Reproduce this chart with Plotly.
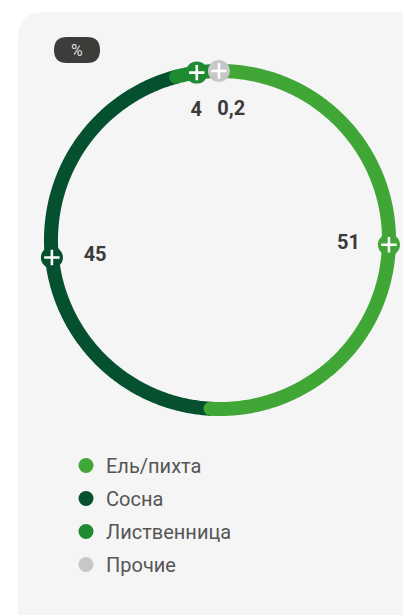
import plotly.graph_objects as go

# ---- data ----
categories = ["Ель/пихта", "Сосна", "Лиственница", "Прочие"]
values = [51, 45, 4, 0.2]
value_labels = ["51", "45", "4", "0,2"]
colors = ["#40a636", "#04502f", "#1e8b33", "#c7c7c7"]
unit_label = "%"

OFF = 8  # default body margin of the page
W, H = 411 - OFF, 615 - OFF
RING_W = 14
MARK_SIZE = 22
R_MAX = 1.12
FONT = "Roboto, Inter, sans-serif"


def px(x):
    return (x - OFF) / W


def py(y):
    return 1 - (y - OFF) / H


total = sum(values)
starts, ends = [], []
acc = 0.0
for v in values:
    starts.append(acc / total * 360)
    acc += v
    ends.append(acc / total * 360)
mids = [(s + e) / 2 for s, e in zip(starts, ends)]

fig = go.Figure()


def arc(s, e):
    n = max(2, int((e - s) / 0.5) + 2)
    return [s + (e - s) * i / (n - 1) for i in range(n)]


# draw order: Сосна, Ель/пихта (its cap overlaps), then small ones
order = [1, 0, 2, 3]
for i in order:
    th = arc(starts[i], ends[i])
    fig.add_trace(go.Scatterpolar(
        r=[1] * len(th), theta=th, mode="lines",
        line=dict(color=colors[i], width=RING_W),
        showlegend=False, hoverinfo="skip"))
    fig.add_trace(go.Scatterpolar(
        r=[1, 1], theta=[starts[i], ends[i]], mode="markers",
        marker=dict(color=colors[i], size=RING_W, line=dict(width=0)),
        showlegend=False, hoverinfo="skip"))

# markers with plus signs
for i in range(len(values)):
    fig.add_trace(go.Scatterpolar(
        r=[1], theta=[mids[i]], mode="markers",
        marker=dict(color=colors[i], size=MARK_SIZE, line=dict(width=0)),
        showlegend=False, hoverinfo="skip"))
    fig.add_trace(go.Scatterpolar(
        r=[1], theta=[mids[i]], mode="markers",
        marker=dict(symbol="cross-thin", size=11, color="white",
                    line=dict(color="white", width=2.6)),
        showlegend=False, hoverinfo="skip"))

# value labels
positions = ["middle center", "middle center", "middle left", "middle right"]
radii = [0.76, 0.745, 0.77, 0.77]
theta_shift = [0, -1.4, 0, -0.8]
for i in range(len(values)):
    fig.add_trace(go.Scatterpolar(
        r=[radii[i]], theta=[mids[i] + theta_shift[i]], mode="text",
        text=[value_labels[i]], textposition=positions[i],
        textfont=dict(family=FONT, size=20, color="#3b3b3b", weight="bold"),
        showlegend=False, hoverinfo="skip"))

# legend entries
for i, c in enumerate(categories):
    fig.add_trace(go.Scatterpolar(
        r=[None], theta=[None], mode="markers", name=c,
        legendgroup=c,
        marker=dict(color=colors[i], size=15, symbol="circle"),
        hoverinfo="skip"))

# background card
x0, x1 = px(18), 1.2
y1, y0 = py(12), -0.2
rx, ry = 26 / W, 26 / H
card = (f"M {x0} {y0} L {x0} {y1 - ry} Q {x0} {y1} {x0 + rx} {y1} "
        f"L {x1} {y1} L {x1} {y0} Z")
# pill
qx0, qx1, qy0, qy1 = px(54), px(100), py(63), py(37)
pr, pry = 13 / W, 13 / H
pill = (f"M {qx0 + pr} {qy0} L {qx1 - pr} {qy0} "
        f"Q {qx1} {qy0} {qx1} {qy0 + pry} Q {qx1} {qy1} {qx1 - pr} {qy1} "
        f"L {qx0 + pr} {qy1} Q {qx0} {qy1} {qx0} {qy0 + pry} "
        f"Q {qx0} {qy0} {qx0 + pr} {qy0} Z")

cx, cy, rad = 220, 240, 169 * R_MAX

fig.update_layout(
    width=W, height=H,
    margin=dict(l=0, r=0, t=0, b=0),
    paper_bgcolor="white",
    plot_bgcolor="rgba(0,0,0,0)",
    font=dict(family=FONT),
    shapes=[
        dict(type="path", path=card, xref="paper", yref="paper",
             fillcolor="#f5f5f5", line=dict(width=0), layer="below"),
        dict(type="path", path=pill, xref="paper", yref="paper",
             fillcolor="#3c3c3b", line=dict(width=0), layer="below"),
    ],
    annotations=[dict(text=unit_label, x=px(77), y=py(50),
                      xanchor="center", yanchor="middle",
                      xref="paper", yref="paper", showarrow=False,
                      font=dict(size=16, color="#dddddd", family=FONT))],
    polar=dict(
        domain=dict(x=[px(cx - rad), px(cx + rad)],
                    y=[py(cy + rad), py(cy - rad)]),
        bgcolor="rgba(0,0,0,0)",
        angularaxis=dict(rotation=90, direction="clockwise", visible=False,
                         showgrid=False),
        radialaxis=dict(range=[0, R_MAX], visible=False, showgrid=False),
    ),
    legend=dict(x=px(66), y=py(446), xanchor="left", yanchor="top",
                bgcolor="rgba(0,0,0,0)",
                font=dict(size=20, color="#555555", family=FONT),
                traceorder="grouped", tracegroupgap=4,
                itemclick=False, itemdoubleclick=False),
)

fig.write_html("out.html")
